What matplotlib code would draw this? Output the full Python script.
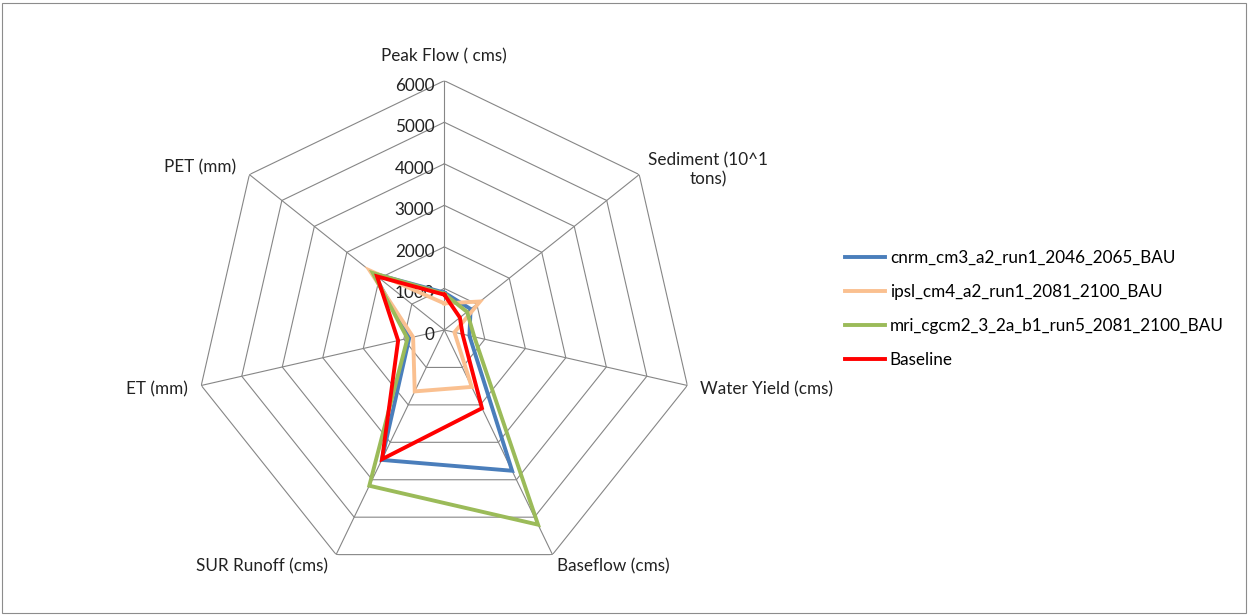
import numpy as np
import matplotlib
matplotlib.use("Agg")
import matplotlib.pyplot as plt
from matplotlib.patches import Rectangle

plt.rcParams["font.family"] = ["Lato", "DejaVu Sans"]

categories = ["Peak Flow ( cms)", "Sediment (10^1\ntons)", "Water Yield (cms)",
              "Baseflow (cms)", "SUR Runoff (cms)", "ET (mm)", "PET (mm)"]
cnrm = [900, 810, 620, 3760, 3470, 865, 2180]
ipsl = [640, 1100, 250, 1520, 1640, 770, 2300]
mri = [870, 700, 740, 5200, 4160, 910, 2200]
baseline = [850, 480, 450, 2090, 3450, 1140, 2070]
series_names = ["cnrm_cm3_a2_run1_2046_2065_BAU", "ipsl_cm4_a2_run1_2081_2100_BAU",
                "mri_cgcm2_3_2a_b1_run5_2081_2100_BAU", "Baseline"]
series_colors = ["#4A7EBB", "#FAC090", "#9BBB59", "#FF0000"]
rticks = [0, 1000, 2000, 3000, 4000, 5000, 6000]

FS = 12.3
W, H = 1249, 615
fig = plt.figure(figsize=(W / 100, H / 100), dpi=100)
fig.patches.append(Rectangle((2 / W, 2 / H), (W - 5) / W, (H - 5) / H, transform=fig.transFigure,
                             fill=False, edgecolor="#8c8c8c", lw=0.8))

# polar axes sized so the 6000 ring sits where the chart area wants it
cx, cy, R = 444.3, 330.0, 249.3
ax = fig.add_axes([(cx - R) / W, (H - cy - R) / H, 2 * R / W, 2 * R / H], projection="polar")
ax.set_theta_zero_location("N")
ax.set_theta_direction(-1)
ax.set_ylim(0, rticks[-1])
ax.grid(False)
ax.set_xticks([]); ax.set_yticks([])
ax.spines["polar"].set_visible(False)
ax.patch.set_alpha(0)

n = len(categories)
theta = np.arange(n) * 2 * np.pi / n
closed = np.append(theta, theta[0])

# heptagon rings and spokes
for r in rticks[1:]:
    ax.plot(closed, [r] * (n + 1), color="#868686", lw=0.8, zorder=1)
for t in theta:
    ax.plot([t, t], [0, rticks[-1]], color="#868686", lw=0.8, zorder=1)

for r in rticks:
    ax.annotate(str(r), (0, r), xytext=(-10, -5), textcoords="offset pixels",
                ha="right", va="center", fontsize=FS, color="#222222")

for vals, name, col in zip([cnrm, ipsl, mri, baseline], series_names, series_colors):
    ax.plot(closed, vals + vals[:1], color=col, lw=2.8, label=name, zorder=3,
            solid_joinstyle="miter")

# category labels placed off each outer vertex
offsets = [(0, 24, "center"), (9, 5, "left"), (13, -4, "left"), (5, -12, "left"),
           (-8, -12, "right"), (-13, -4, "right"), (-13, 7, "right")]
for t, lab, (dx, dy, ha) in zip(theta, categories, offsets):
    ax.annotate(lab, (t, rticks[-1]), xytext=(dx, dy), textcoords="offset pixels",
                ha=ha, va="center", multialignment="center", fontsize=FS,
                color="#222222", annotation_clip=False)

fig.legend(loc="center left", bbox_to_anchor=(830 / W, (H - 309) / H), frameon=False,
           fontsize=FS, handlelength=2.3, handletextpad=0.3, labelspacing=1.07)

fig.savefig("out.png", dpi=100)
